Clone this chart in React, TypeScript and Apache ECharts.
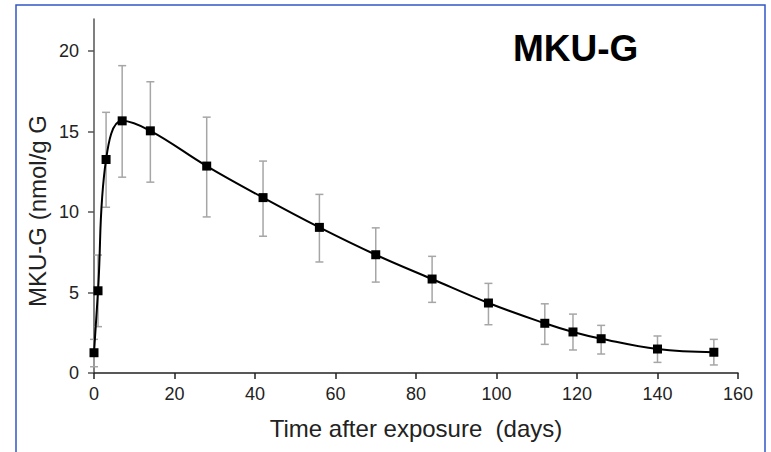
import React, { useEffect, useRef } from "react";
import * as echarts from "echarts";

const days = [0, 1, 3, 7, 14, 28, 42, 56, 70, 84, 98, 112, 119, 126, 140, 154];
const meanValues = [1.26, 5.11, 13.27, 15.67, 15.05, 12.86, 10.9, 9.05, 7.35, 5.84, 4.35, 3.09, 2.55, 2.13, 1.49, 1.29];
const upperValues = [2.09, 7.33, 16.2, 19.1, 18.1, 15.9, 13.17, 11.1, 9.02, 7.25, 5.57, 4.3, 3.66, 2.96, 2.3, 2.09];
const lowerValues = [0.39, 2.88, 10.3, 12.17, 11.86, 9.7, 8.5, 6.9, 5.65, 4.39, 3.0, 1.78, 1.43, 1.18, 0.66, 0.5];
const xTicks = [0, 20, 40, 60, 80, 100, 120, 140, 160];
const yTicks = [0, 5, 10, 15, 20];

const chartTitle = "MKU-G";
const xTitle = "Time after exposure  (days)";
const yTitle = "MKU-G (nmol/g G";

const FONT = "Liberation Sans, Arial, sans-serif";

export default function App() {
  const ref = useRef<HTMLDivElement>(null);
  useEffect(() => {
    if (!ref.current) return;
    const chart = echarts.init(ref.current, undefined, { renderer: "svg" });
    const lineData = days.map((d, i) => [d, meanValues[i]]);
    const errData = days.map((d, i) => [d, lowerValues[i], upperValues[i]]);
    chart.setOption({
      animation: false,
      backgroundColor: "#ffffff",
      grid: { left: 94, right: 33, top: 19, bottom: 79, containLabel: false },
      xAxis: {
        type: "value",
        min: 0,
        max: 160,
        interval: 20,
        splitLine: { show: false },
        axisLine: { show: true, onZero: false, lineStyle: { color: "#222", width: 1.5 } },
        axisTick: { show: true, inside: false, length: 6, lineStyle: { color: "#222", width: 1.5 }, customValues: xTicks },
        axisLabel: { color: "#222", fontSize: 18, fontFamily: FONT, margin: 12, customValues: xTicks },
        name: xTitle,
        nameLocation: "middle",
        nameGap: 43,
        nameTextStyle: { color: "#222", fontSize: 24, fontFamily: FONT },
      },
      yAxis: {
        type: "value",
        min: 0,
        max: 22,
        interval: 5,
        splitLine: { show: false },
        axisLine: { show: true, onZero: false, lineStyle: { color: "#555", width: 1.5 } },
        axisTick: { show: true, inside: false, length: 6, lineStyle: { color: "#555", width: 1.5 }, customValues: yTicks },
        axisLabel: { color: "#222", fontSize: 18, fontFamily: FONT, margin: 15, customValues: yTicks },
      },
      graphic: [
        {
          type: "rect",
          shape: { x: 16, y: 5, width: 749, height: 470 },
          style: { fill: "none", stroke: "#3057c7", lineWidth: 1.5 },
          silent: true,
        },
        {
          type: "text",
          x: 513,
          y: 48,
          style: { text: chartTitle, font: `bold 37px ${FONT}`, fill: "#000", textAlign: "left", textVerticalAlign: "middle" },
        },
        {
          type: "text",
          x: 37,
          y: 211,
          rotation: Math.PI / 2,
          style: { text: yTitle, font: `24px ${FONT}`, fill: "#222", textAlign: "center", textVerticalAlign: "middle" },
        },
      ],
      series: [
        {
          type: "custom",
          z: 1,
          data: errData,
          renderItem: (params: any, api: any) => {
            const x = api.value(0);
            const lo = api.coord([x, api.value(1)]);
            const hi = api.coord([x, api.value(2)]);
            const hw = 4;
            const style = { stroke: "#a6a6a6", lineWidth: 1.5 };
            return {
              type: "group",
              children: [
                { type: "line", shape: { x1: lo[0], y1: lo[1], x2: hi[0], y2: hi[1] }, style },
                { type: "line", shape: { x1: lo[0] - hw, y1: lo[1], x2: lo[0] + hw, y2: lo[1] }, style },
                { type: "line", shape: { x1: hi[0] - hw, y1: hi[1], x2: hi[0] + hw, y2: hi[1] }, style },
              ],
            };
          },
        },
        {
          type: "line",
          z: 3,
          data: lineData,
          smooth: 0.4,
          symbol: "rect",
          symbolSize: 9,
          itemStyle: { color: "#000" },
          lineStyle: { color: "#000", width: 2 },
        },
      ],
    });
    return () => chart.dispose();
  }, []);
  return (
    <div
      ref={ref}
      style={{ position: "absolute", left: 0, top: 0, width: 771, height: 452 }}
    />
  );
}
